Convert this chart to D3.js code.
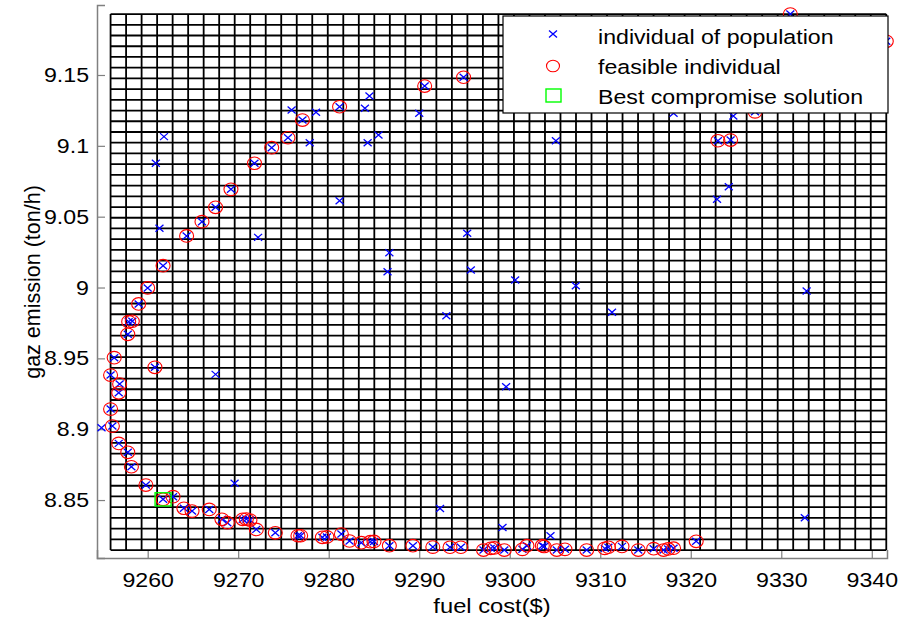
<!DOCTYPE html>
<html>
<head>
<meta charset="utf-8">
<script src="https://cdn.jsdelivr.net/npm/d3@7"></script>
<style>
  body { margin: 0; background: #fff; }
  text { font-family: "Liberation Sans", Arial, Helvetica, sans-serif; fill: #000; }
</style>
</head>
<body>
<div id="chart"></div>
<script>
// feasible individuals (red circle + blue x)
const feasibleCost = [9331.0, 9341.6, 9294.9, 9290.6, 9327.1, 9323.0, 9324.4, 9281.2, 9277.1, 9275.5,
  9273.7, 9271.8, 9269.2, 9267.5, 9266.0, 9264.3, 9261.7, 9260.0, 9259.0, 9257.9,
  9258.3, 9257.8, 9256.3, 9260.8, 9255.9, 9256.9, 9256.8, 9255.9, 9256.1, 9256.8,
  9257.8, 9258.2, 9259.8, 9261.7, 9262.8, 9264.0, 9264.9, 9266.8, 9268.2, 9268.8,
  9270.5, 9270.9, 9271.3, 9272.0, 9274.1, 9276.6, 9276.9, 9279.3, 9279.8, 9281.4,
  9282.3, 9283.6, 9284.6, 9285.0, 9286.7, 9289.3, 9291.5, 9293.4, 9294.6, 9297.1,
  9297.9, 9298.3, 9299.4, 9301.4, 9301.9, 9303.6, 9303.8, 9305.2, 9306.1, 9308.5,
  9310.5, 9310.9, 9312.4, 9314.2, 9315.9, 9317.0, 9317.5, 9318.1, 9320.6];
const feasibleEmission = [9.193, 9.1738, 9.1484, 9.1422, 9.124, 9.1036, 9.1041, 9.1276, 9.1182, 9.1057,
  9.0987, 9.0877, 9.0693, 9.0566, 9.0465, 9.0364, 9.0154, 8.9997, 8.9884, 8.9759,
  8.9762, 8.967, 8.9505, 8.9437, 8.9382, 8.9319, 8.9257, 8.9142, 8.9022, 8.890,
  8.8837, 8.8735, 8.8606, 8.8505, 8.8524, 8.8442, 8.8422, 8.8434, 8.8364, 8.834,
  8.8364, 8.8366, 8.8359, 8.8293, 8.8269, 8.8248, 8.8248, 8.8237, 8.824, 8.826,
  8.8211, 8.8199, 8.8206, 8.8208, 8.8178, 8.8178, 8.8168, 8.8167, 8.8167, 8.8147,
  8.8159, 8.8162, 8.8147, 8.8152, 8.8178, 8.8178, 8.8172, 8.8147, 8.8152, 8.8147,
  8.8159, 8.8167, 8.8173, 8.8147, 8.8157, 8.8147, 8.8155, 8.816, 8.8209];

// the rest of the population (blue x only)
const otherCost = [9261.8, 9260.9, 9261.3, 9272.2, 9281.2, 9284.5, 9284.0, 9284.3, 9285.5, 9275.9,
  9278.6, 9277.9, 9267.5, 9254.9, 9269.6, 9292.3, 9299.2, 9304.5, 9290.0, 9305.1,
  9295.3, 9286.7, 9286.5, 9295.7, 9300.6, 9307.3, 9311.3, 9293.0, 9299.6, 9324.7,
  9318.1, 9324.2, 9322.9, 9332.8, 9332.6];
const otherEmission = [9.1065, 9.0877, 9.0418, 9.0354, 9.0613, 9.1352, 9.1265, 9.1022, 9.1076, 9.1253,
  9.1237, 9.1022, 8.9387, 8.901, 8.8618, 8.8441, 8.8307, 8.8248, 9.123, 9.1036,
  9.0383, 9.0246, 9.0112, 9.0124, 9.0053, 9.0013, 8.9825, 8.9801, 8.930, 9.121,
  9.123, 9.0712, 9.0623, 8.9975, 8.8375];

const bestCost = [9261.7];
const bestEmission = [8.8505];

// mesh spans the feasible set, 50 x 50 cells
const meshCost = [d3.min(feasibleCost), d3.max(feasibleCost)];
const meshEmission = [d3.min(feasibleEmission), d3.max(feasibleEmission)];
const meshCells = 50;

const xTicks = [9260, 9270, 9280, 9290, 9300, 9310, 9320, 9330, 9340];
const yTicks = [8.85, 8.9, 8.95, 9, 9.05, 9.1, 9.15];
const legendLabels = ['individual of population', 'feasible individual', 'Best compromise solution'];

const width = 899, height = 620;
const margin = {left: 97, right: 12, top: 5, bottom: 62};
const stretch = 1.13; // the picture is a bit wider than tall

const x = d3.scaleLinear().domain([9254.4, 9341.68]).range([margin.left, width - margin.right]);
const y = d3.scaleLinear().domain([8.8091, 9.1994]).range([height - margin.bottom, margin.top]);

const svg = d3.select('#chart').append('svg')
  .attr('width', width)
  .attr('height', height);

// axes (grey, ticks inside, no box)
const axisColor = '#808080';
const xAxis = svg.append('g')
  .attr('transform', 'translate(0,' + (height - margin.bottom) + ')')
  .call(d3.axisBottom(x).tickValues(xTicks).tickSize(-8).tickPadding(14).tickFormat(d3.format('d')));
const yAxis = svg.append('g')
  .attr('transform', 'translate(' + margin.left + ',0)')
  .call(d3.axisLeft(y).tickValues(yTicks).tickSize(-8).tickPadding(8).tickFormat(d => String(d)));
[xAxis, yAxis].forEach(function(a) {
  a.select('.domain').attr('stroke', axisColor).attr('stroke-width', 1.5);
  a.selectAll('.tick line').attr('stroke', axisColor).attr('stroke-width', 1.2);
  a.selectAll('.tick text').attr('fill', '#000').style('font-size', '20.5px')
    .style('font-family', '"Liberation Sans", Arial, sans-serif')
    .attr('transform', 'scale(' + stretch + ',1)');
});
xAxis.selectAll('.tick text').attr('dy', '0.71em');
yAxis.selectAll('.tick text').attr('x', -8 / stretch);

// mesh
const gx = d3.scaleLinear().domain([0, meshCells]).range(meshCost);
const gy = d3.scaleLinear().domain([0, meshCells]).range(meshEmission);
const mesh = svg.append('g').attr('stroke', '#000').attr('stroke-width', 1.8);
mesh.selectAll('.vl')
  .data(d3.range(meshCells + 1))
  .enter().append('line')
  .attr('x1', d => x(gx(d))).attr('x2', d => x(gx(d)))
  .attr('y1', y(meshEmission[0])).attr('y2', y(meshEmission[1]));
mesh.selectAll('.hl')
  .data(d3.range(meshCells + 1))
  .enter().append('line')
  .attr('y1', d => y(gy(d))).attr('y2', d => y(gy(d)))
  .attr('x1', x(meshCost[0])).attr('x2', x(meshCost[1]));

const population = otherCost.map((c, i) => [c, otherEmission[i]])
  .concat(feasibleCost.map((c, i) => [c, feasibleEmission[i]]));
const feasible = feasibleCost.map((c, i) => [c, feasibleEmission[i]]);
const best = bestCost.map((c, i) => [c, bestEmission[i]]);

function cross(g, cx, cy) {
  g.append('path')
    .attr('d', 'M' + (cx - 4) + ',' + (cy - 3.5) + 'L' + (cx + 4) + ',' + (cy + 3.5) +
      'M' + (cx - 4) + ',' + (cy + 3.5) + 'L' + (cx + 4) + ',' + (cy - 3.5))
    .attr('stroke', '#0000ff').attr('stroke-width', 1.3).attr('fill', 'none');
}

const marks = svg.append('g');
population.forEach(d => cross(marks, x(d[0]), y(d[1])));

marks.selectAll('ellipse')
  .data(feasible)
  .enter().append('ellipse')
  .attr('cx', d => x(d[0])).attr('cy', d => y(d[1]))
  .attr('rx', 7).attr('ry', 6.3)
  .attr('fill', 'none').attr('stroke', '#ff0000').attr('stroke-width', 1.1);

marks.selectAll('rect')
  .data(best)
  .enter().append('rect')
  .attr('x', d => x(d[0]) - 8).attr('y', d => y(d[1]) - 6.6)
  .attr('width', 16).attr('height', 13.2)
  .attr('fill', 'none').attr('stroke', '#00ff00').attr('stroke-width', 1.4);

// legend
const legend = svg.append('g').attr('transform', 'translate(503,16)');
legend.append('rect')
  .attr('width', 385).attr('height', 97)
  .attr('fill', '#fff').attr('stroke', '#000').attr('stroke-width', 1.2);
const rowY = [20, 50, 80];
cross(legend, 50, rowY[0] - 2);
legend.append('ellipse').attr('cx', 50).attr('cy', rowY[1])
  .attr('rx', 6.5).attr('ry', 5.8)
  .attr('fill', 'none').attr('stroke', '#ff0000').attr('stroke-width', 1.1);
legend.append('rect').attr('x', 43).attr('y', rowY[2] - 7).attr('width', 15).attr('height', 13)
  .attr('fill', 'none').attr('stroke', '#00ff00').attr('stroke-width', 1.4);
legend.selectAll('text.lbl')
  .data(legendLabels)
  .enter().append('text')
  .attr('class', 'lbl')
  .attr('transform', (d, i) => 'translate(95,' + (rowY[i] + 1) + ') scale(' + stretch + ',1)')
  .attr('dy', '0.35em')
  .style('font-size', '20.5px')
  .text(d => d);

// axis titles
svg.append('text')
  .attr('transform', 'translate(' + ((margin.left + width - margin.right) / 2) + ',613) scale(' + stretch + ',1)')
  .attr('text-anchor', 'middle')
  .style('font-size', '21px')
  .text('fuel cost($)');
svg.append('text')
  .attr('transform', 'translate(40,282) rotate(-90)')
  .attr('text-anchor', 'middle')
  .style('font-size', '21.5px')
  .text('gaz emission (ton/h)');
</script>
</body>
</html>
